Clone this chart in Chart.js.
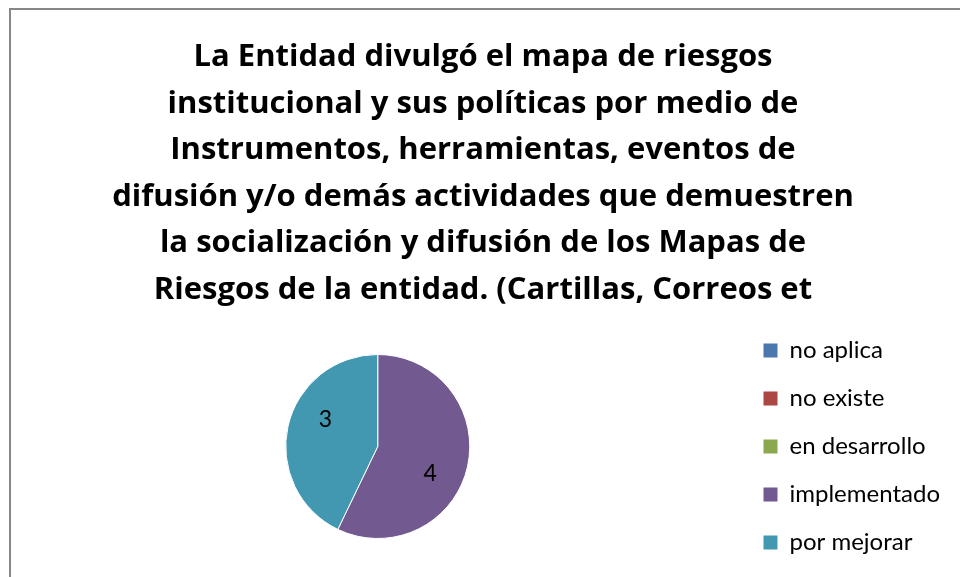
<!DOCTYPE html>
<html>
<head>
<meta charset="utf-8">
<script src="https://cdn.jsdelivr.net/npm/chart.js@4/dist/chart.umd.min.js"></script>
<style>
  html, body { margin: 0; padding: 0; width: 960px; height: 577px; overflow: hidden; background: #fff; }
  #frame { position: absolute; left: 9px; top: 8px; width: 1000px; height: 620px; border: 2px solid #878787; }
  #pie-chart { position: absolute; left: 0; top: 0; }
</style>
</head>
<body>
<div id="frame"></div>
<canvas id="pie-chart" width="960" height="600"></canvas>
<script>
const titleLines = [
    'La Entidad divulgó el mapa de riesgos',
    'institucional y sus políticas por medio de',
    'Instrumentos, herramientas, eventos de',
    'difusión y/o demás actividades que demuestren',
    'la socialización y difusión de los Mapas de',
    'Riesgos de la entidad. (Cartillas, Correos et'
];
const categories = ['no aplica', 'no existe', 'en desarrollo', 'implementado', 'por mejorar'];
const values = [0, 0, 0, 4, 3];
const colors = ['#4a77ae', '#ab4744', '#8ba84f', '#72598f', '#4298b0'];

// value labels inside the slices (Excel puts them a bit past the bisector)
const sliceLabels = {
    id: 'sliceLabels',
    afterDatasetsDraw(chart) {
        const ctx = chart.ctx;
        const meta = chart.getDatasetMeta(0);
        ctx.save();
        ctx.font = '23px Lato';
        ctx.fillStyle = '#000';
        ctx.textAlign = 'center';
        ctx.textBaseline = 'middle';
        meta.data.forEach((arc, i) => {
            const v = values[i];
            if (!v) return;
            const p = arc.getProps(['x', 'y', 'startAngle', 'endAngle', 'outerRadius'], true);
            const mid = (p.startAngle + p.endAngle) / 2 + 0.25;
            const r = p.outerRadius * 0.64;
            ctx.fillText(String(v), p.x + Math.cos(mid) * r, p.y + Math.sin(mid) * r);
        });
        ctx.restore();
    }
};

function initPieChart() {
    const el = document.getElementById('pie-chart');
    new Chart(el, {
        type: 'pie',
        data: {
            labels: categories,
            datasets: [{
                data: values,
                backgroundColor: colors,
                borderColor: '#fff',
                borderWidth: 1,
                radius: 92,
                hoverOffset: 0
            }]
        },
        options: {
            responsive: false,
            animation: false,
            events: [],
            layout: { padding: { top: 0, bottom: 20, left: 16, right: 10 } },
            plugins: {
                title: {
                    display: true,
                    text: titleLines,
                    color: '#000',
                    font: { family: 'Open Sans', size: 31, weight: 'bold', lineHeight: '46.5px' },
                    padding: { top: 34, bottom: 0 }
                },
                legend: {
                    position: 'right',
                    fullSize: false,
                    labels: {
                        color: '#000',
                        font: { family: 'Lato', size: 24 },
                        boxWidth: 14,
                        boxHeight: 14,
                        padding: 24,
                        generateLabels(chart) {
                            return categories.map((c, i) => ({
                                text: c,
                                fillStyle: colors[i],
                                strokeStyle: colors[i],
                                lineWidth: 0,
                                hidden: false,
                                index: i
                            }));
                        }
                    }
                },
                tooltip: { enabled: false }
            }
        },
        plugins: [sliceLabels]
    });
}

document.addEventListener('DOMContentLoaded', initPieChart);
</script>
</body>
</html>
